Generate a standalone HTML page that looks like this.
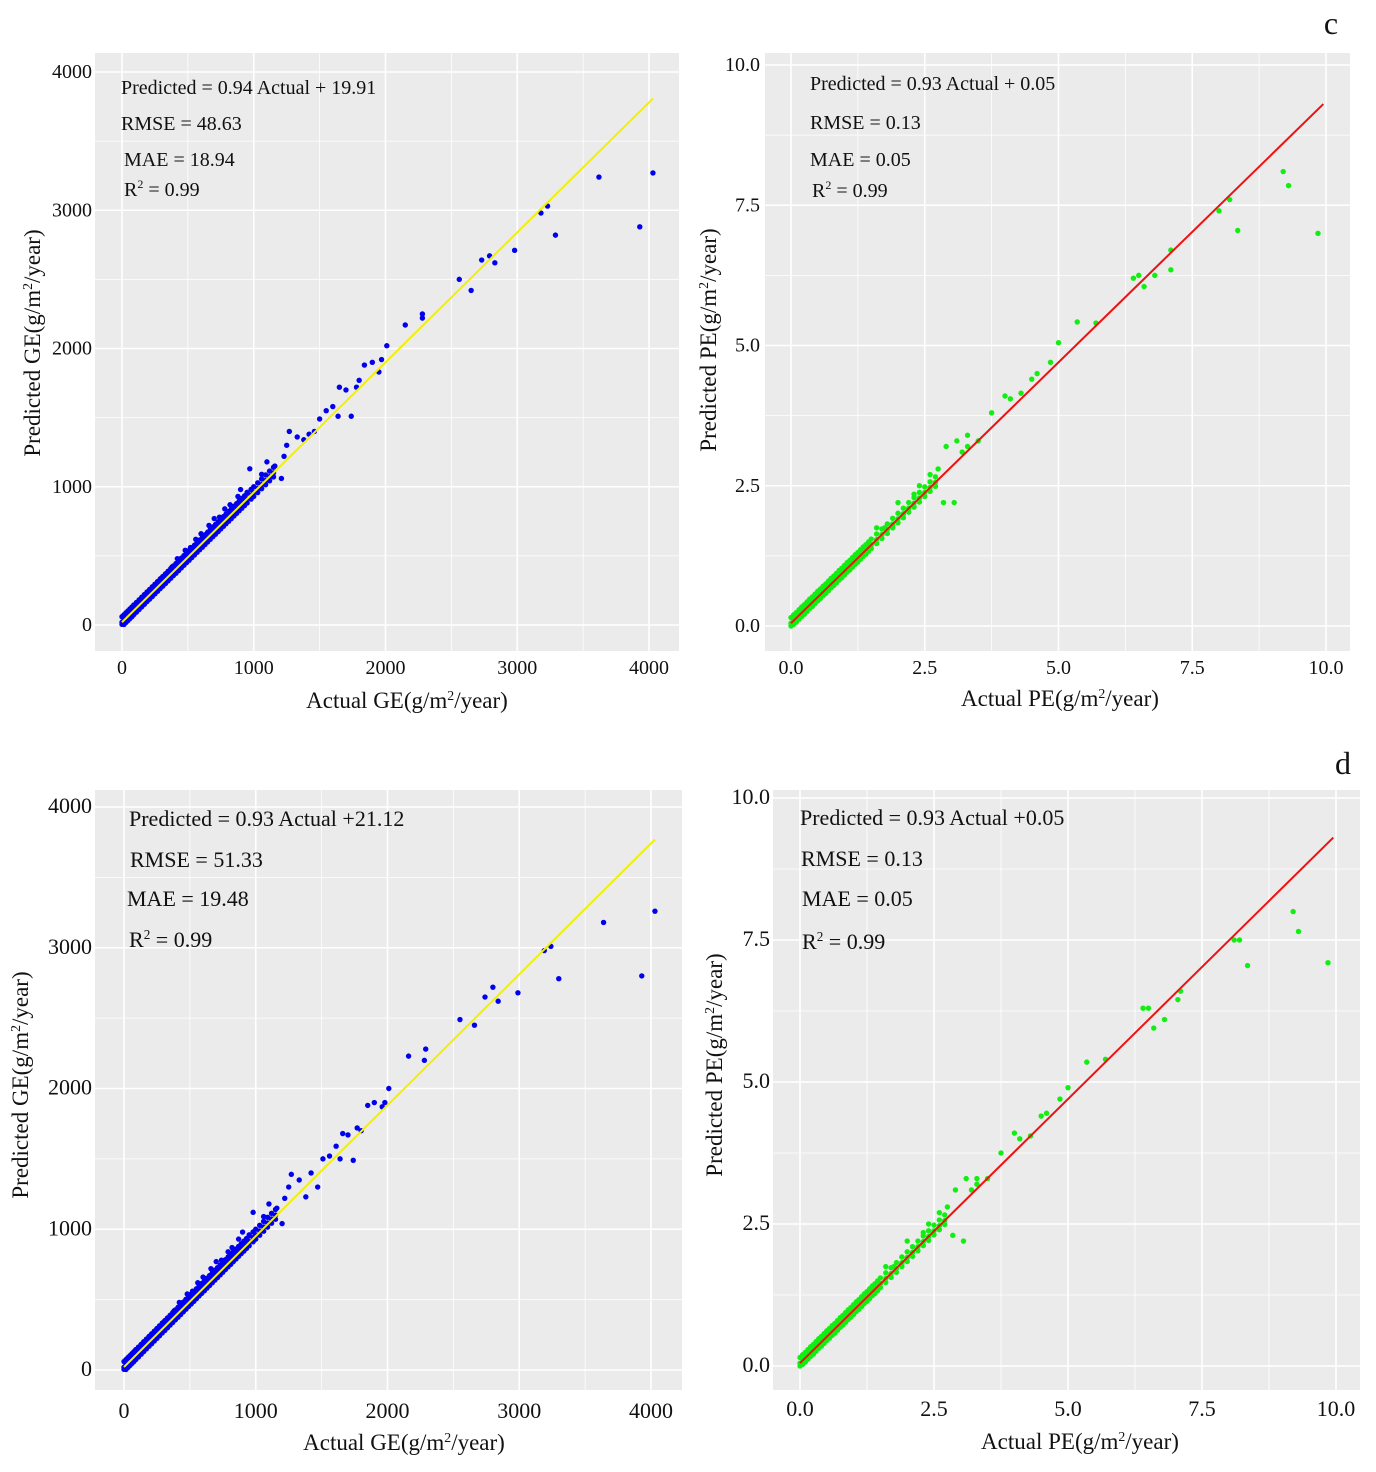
<!DOCTYPE html>
<html><head><meta charset="utf-8"><style>
html,body{margin:0;padding:0;background:#fff;}
svg text{font-family:"Liberation Serif",serif;fill:#111;}
</style></head><body>
<svg id="chart" width="1376" height="1467" viewBox="0 0 1376 1467" xmlns="http://www.w3.org/2000/svg" font-family="Liberation Serif, serif"></svg>
<script>
// ---- shared dense cluster data ----
const geClusterActual=[0,15,30,45,60,75,90,110,130,150,170,190,210,230,250,270,290,310,330,350,370,390,410,430,450,470,490,510,530,550,570,590,610,630,650,670,690,710,730,750,770,790,810,830,850,870,890,910,930,950,980,1000,1030,1060,1090,1120,1150];
const geClusterPred=[20,34,48,62,76,90,105,123,142,161,180,199,217,236,255,274,293,311,330,349,368,387,405,424,443,462,481,499,518,537,556,575,593,612,631,650,669,687,706,725,744,763,781,800,819,838,857,875,894,913,941,960,988,1016,1045,1073,1101];
const geClusterUpper=[60,74,88,102,116,130,145,163,182,201,220,239,257,276,295,314,333,351,370,389,408,427,445,464,483,502,521,539,558,577,596,615,633,652,671,690,709,727,746,765,784,803,821,840,859,878,897,915,934,953,981,1000,1028,1056,1085,1113,1141];
const geClusterLower=[5,4,18,32,46,60,75,93,112,131,150,169,187,206,225,244,263,281,300,319,338,357,375,394,413,432,451,469,488,507,526,545,563,582,601,620,639,657,676,695,714,733,751,770,789,808,827,845,864,883,911,930,958,986,1015,1043,1071];
const peClusterActual=[0,0.05,0.1,0.15,0.2,0.25,0.3,0.35,0.4,0.45,0.5,0.55,0.6,0.65,0.7,0.75,0.8,0.85,0.9,0.95,1.0,1.05,1.1,1.15,1.2,1.25,1.3,1.35,1.4,1.45,1.5,1.6,1.7,1.8,1.9,2.0,2.1,2.2,2.3,2.4,2.5,2.6,2.7];
const peClusterPred=[0.05,0.10,0.14,0.19,0.24,0.28,0.33,0.38,0.42,0.47,0.52,0.56,0.61,0.65,0.70,0.75,0.79,0.84,0.89,0.93,0.98,1.03,1.07,1.12,1.17,1.21,1.26,1.31,1.35,1.40,1.45,1.54,1.63,1.72,1.82,1.91,2.00,2.10,2.19,2.28,2.38,2.47,2.56];
const peClusterUpper=[0.15,0.20,0.24,0.29,0.34,0.38,0.43,0.48,0.52,0.57,0.62,0.66,0.71,0.75,0.80,0.85,0.89,0.94,0.99,1.03,1.08,1.13,1.17,1.22,1.27,1.31,1.36,1.41,1.45,1.50,1.55,1.64,1.73,1.82,1.92,2.01,2.10,2.20,2.29,2.38,2.48,2.57,2.66];
const peClusterLower=[0.0,0.03,0.07,0.12,0.17,0.21,0.26,0.31,0.35,0.40,0.45,0.49,0.54,0.58,0.63,0.68,0.72,0.77,0.82,0.86,0.91,0.96,1.00,1.05,1.10,1.14,1.19,1.24,1.28,1.33,1.38,1.47,1.56,1.65,1.75,1.84,1.93,2.03,2.12,2.21,2.31,2.40,2.49];
// ---- outliers per panel ----
const geActualA=[4030,3930,3620,3290,3230,3180,2980,2830,2790,2730,2650,2560,2280,2280,2150,2010,1970,1950,1900,1840,1800,1780,1740,1700,1650,1640,1600,1550,1500,1460,1420,1380,1330,1270,1250,1230,1210,1160,1100,1060,970,950,900,880,820,780,740,700,660,600,560,520,480,420,380,300,240,160];
const gePredA=[3270,2880,3240,2820,3030,2980,2710,2620,2670,2640,2420,2500,2250,2220,2170,2020,1920,1830,1900,1880,1770,1720,1510,1700,1720,1510,1580,1550,1490,1400,1380,1340,1360,1400,1300,1220,1060,1150,1180,1090,1130,960,980,930,870,840,780,770,720,660,620,560,540,480,420,340,280,200];
const geActualC=[4030,3930,3640,3300,3240,3190,2990,2840,2800,2740,2660,2550,2290,2280,2160,2010,1980,1960,1900,1850,1800,1770,1740,1700,1660,1640,1610,1560,1510,1470,1420,1380,1330,1270,1250,1220,1200,1160,1100,1060,980,950,900,870,820,790,740,700,660,600,560,520,480,420,380,300,240,160];
const gePredC=[3260,2800,3180,2780,3010,2980,2680,2620,2720,2650,2450,2490,2280,2200,2230,2000,1900,1870,1900,1880,1700,1720,1490,1670,1680,1500,1590,1520,1500,1300,1400,1230,1350,1390,1300,1220,1040,1150,1180,1090,1120,960,980,930,870,840,780,770,720,660,620,560,540,480,420,340,280,200];
const peActualB=[9.85,9.3,9.2,8.35,8.2,8.0,7.1,7.1,6.8,6.6,6.5,6.4,5.7,5.35,5.0,4.85,4.6,4.5,4.3,4.1,4.0,3.75,3.3,3.3,3.1,3.05,2.85,2.9,2.75,2.6,2.4,2.3,2.1,2.0,1.9,1.75,1.6,1.5,3.2,3.5];
const pePredB=[7.0,7.85,8.1,7.05,7.6,7.4,6.7,6.35,6.25,6.05,6.25,6.2,5.4,5.42,5.05,4.7,4.5,4.4,4.15,4.05,4.1,3.8,3.2,3.4,3.3,2.2,2.2,3.2,2.8,2.7,2.5,2.35,2.0,2.2,1.8,1.75,1.75,1.45,3.1,3.3];
const peActualD=[9.85,9.3,9.2,8.35,8.2,8.1,7.1,7.05,6.8,6.6,6.5,6.4,5.7,5.35,5.0,4.85,4.6,4.5,4.3,4.1,4.0,3.75,3.3,3.3,3.1,3.05,2.85,2.9,2.75,2.6,2.4,2.3,2.1,2.0,1.9,1.75,1.6,1.5,3.2,3.5];
const pePredD=[7.1,7.65,8.0,7.05,7.5,7.5,6.6,6.45,6.1,5.95,6.3,6.3,5.4,5.35,4.9,4.7,4.45,4.4,4.05,4.0,4.1,3.75,3.3,3.2,3.3,2.2,2.3,3.1,2.8,2.7,2.5,2.35,2.0,2.2,1.8,1.75,1.75,1.45,3.1,3.3];
// fit coefficients [slope, intercept, maxActual]
const fitA=[0.94,19.91,4030], fitB=[0.93,0.05,9.95], fitC=[0.93,21.12,4030], fitD=[0.93,0.05,9.95];
const geTicks=[0,1000,2000,3000,4000], geTickLabels=["0","1000","2000","3000","4000"];
const peTicks=[0,2.5,5,7.5,10], peTickLabels=["0.0","2.5","5.0","7.5","10.0"];

const NS="http://www.w3.org/2000/svg";
const svg=document.getElementById('chart');
function el(tag,attrs,parent){const e=document.createElementNS(NS,tag);for(const k in attrs)e.setAttribute(k,attrs[k]);(parent||svg).appendChild(e);return e;}

function panel(cfg){
  const g=el('g',{});
  
  
  const X=v=>cfg.x0+v*cfg.kx, Y=v=>cfg.y0-v*cfg.ky;
  const bg=el('rect',{x:cfg.L,y:cfg.T,width:cfg.R-cfg.L,height:cfg.B-cfg.T,fill:'#ebebeb'},g);
  
  
  const step=cfg.ticks[1]-cfg.ticks[0];
  for(let i=-1;i<cfg.ticks.length;i++){
    const v=cfg.ticks[0]+step*i;
    [[v,1.6],[v+step/2,0.8]].forEach(([w,sw])=>{
      const px=X(w); if(px>cfg.L&&px<cfg.R){const l=el('line',{x1:px,x2:px,y1:cfg.T,y2:cfg.B,stroke:'#fff','stroke-width':sw},g);}
      const py=Y(w); if(py>cfg.T&&py<cfg.B){const l=el('line',{y1:py,y2:py,x1:cfg.L,x2:cfg.R,stroke:'#fff','stroke-width':sw},g);}
    });
  }
  cfg.ticks.forEach((v,i)=>{
    const t=el('text',{x:X(v),y:cfg.xLabY,'text-anchor':'middle','font-size':cfg.tfs},g);t.textContent=cfg.labels[i];
    
    const u=el('text',{x:cfg.yLabX,y:Y(v)+6,'text-anchor':'end','font-size':cfg.tfs},g);u.textContent=cfg.labels[i];
    
  });
  const pts=[[cfg.ca,cfg.cl],[cfg.ca,cfg.cu],[cfg.ca,cfg.cp],[cfg.oa,cfg.op]];
  pts.forEach(([xa,ya])=>xa.forEach((a,i)=>{
    const c=el('circle',{cx:X(a),cy:Y(ya[i]),r:2.7,fill:cfg.color},g);
    
  }));
  const f=cfg.fit;
  const ln=el('line',{x1:X(0),y1:Y(f[1]),x2:X(f[2]),y2:Y(f[0]*f[2]+f[1]),stroke:cfg.lineColor,'stroke-width':2},g);
  
  cfg.ann.forEach(([txt,x,y,sup])=>{
    const t=el('text',{x:x,y:y,'font-size':cfg.afs},g);
    
    if(sup){t.appendChild(document.createTextNode('R'));const s=el('tspan',{'font-size':cfg.afs*0.6,dy:-8},t);s.textContent='2';const r=el('tspan',{dy:8},t);r.textContent=' = '+txt;}
    else t.textContent=txt;
  });
  const xt=el('text',{x:cfg.xtx,y:cfg.xty,'text-anchor':'middle','font-size':cfg.lfs},g);
  
  xt.appendChild(document.createTextNode('Actual '+cfg.v+'(g/m'));
  let s=el('tspan',{'font-size':cfg.lfs*0.6,dy:-8},xt);s.textContent='2';
  s=el('tspan',{dy:8},xt);s.textContent='/year)';
  const yt=el('text',{x:0,y:0,'text-anchor':'middle','font-size':cfg.lfs,transform:`translate(${cfg.ytx},${cfg.yty}) rotate(-90)`},g);
  
  yt.appendChild(document.createTextNode('Predicted '+cfg.v+'(g/m'));
  s=el('tspan',{'font-size':cfg.lfs*0.6,dy:-8},yt);s.textContent='2';
  s=el('tspan',{dy:8},yt);s.textContent='/year)';
}

panel({name:'panel-ge-top',L:95,R:679,T:53,B:651,x0:122,kx:0.13175,y0:625,ky:0.13825,ticks:geTicks,labels:geTickLabels,
  xLabY:674,yLabX:92,tfs:20,ca:geClusterActual,cp:geClusterPred,cu:geClusterUpper,cl:geClusterLower,oa:geActualA,op:gePredA,
  color:'#0000ee',fit:fitA,lineColor:'#f2f000',afs:20,
  ann:[['Predicted = 0.94 Actual + 19.91',121,94],['RMSE = 48.63',121,130],['MAE = 18.94',124,166],['0.99',124,196,true]],
  v:'GE',lfs:23,xtx:407,xty:708,ytx:40,yty:343});
panel({name:'panel-pe-top',L:765,R:1350,T:53,B:651,x0:791,kx:53.5,y0:626,ky:56.1,ticks:peTicks,labels:peTickLabels,
  xLabY:674,yLabX:760,tfs:20,ca:peClusterActual,cp:peClusterPred,cu:peClusterUpper,cl:peClusterLower,oa:peActualB,op:pePredB,
  color:'#11ee11',fit:fitB,lineColor:'#ee1111',afs:20,
  ann:[['Predicted = 0.93 Actual + 0.05',810,90],['RMSE = 0.13',810,129],['MAE = 0.05',810,166],['0.99',812,197,true]],
  v:'PE',lfs:23,xtx:1060,xty:706,ytx:716,yty:340});
panel({name:'panel-ge-bottom',L:95,R:682,T:790,B:1390,x0:124,kx:0.13175,y0:1370,ky:0.14075,ticks:geTicks,labels:geTickLabels,
  xLabY:1418,yLabX:92,tfs:22,ca:geClusterActual,cp:geClusterPred,cu:geClusterUpper,cl:geClusterLower,oa:geActualC,op:gePredC,
  color:'#0000ee',fit:fitC,lineColor:'#f2f000',afs:22,
  ann:[['Predicted = 0.93 Actual +21.12',129,826],['RMSE = 51.33',130,867],['MAE = 19.48',127,906],['0.99',129,947,true]],
  v:'GE',lfs:23,xtx:404,xty:1450,ytx:28,yty:1085});
panel({name:'panel-pe-bottom',L:773,R:1360,T:790,B:1390,x0:800,kx:53.6,y0:1366,ky:56.8,ticks:peTicks,labels:peTickLabels,
  xLabY:1416,yLabX:770,tfs:22,ca:peClusterActual,cp:peClusterPred,cu:peClusterUpper,cl:peClusterLower,oa:peActualD,op:pePredD,
  color:'#11ee11',fit:fitD,lineColor:'#ee1111',afs:22,
  ann:[['Predicted = 0.93 Actual +0.05',800,825],['RMSE = 0.13',801,866],['MAE = 0.05',802,906],['0.99',802,949,true]],
  v:'PE',lfs:23,xtx:1080,xty:1449,ytx:722,yty:1065});

const lc=el('text',{x:1331,y:34,'text-anchor':'middle','font-size':32});lc.textContent='c';

const ld=el('text',{x:1343,y:774,'text-anchor':'middle','font-size':32});ld.textContent='d';

</script>
</body></html>
